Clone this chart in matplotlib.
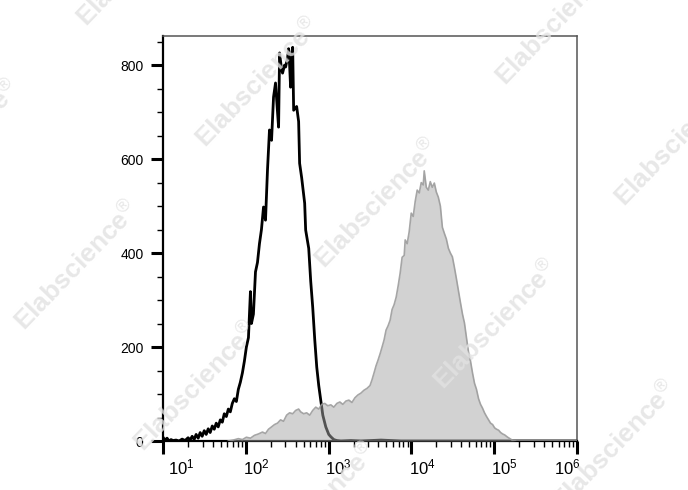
"""Flow cytometry overlay: isotype/unstained (black) vs stained sample (gray fill)."""
import numpy as np
import matplotlib; matplotlib.use("Agg")
import matplotlib.pyplot as plt
import matplotlib.transforms as mtransforms
from matplotlib.ticker import FixedLocator, NullFormatter, MultipleLocator

plt.rcParams["font.family"] = ["Liberation Sans", "DejaVu Sans"]
plt.rcParams["mathtext.fontset"] = "custom"
plt.rcParams["mathtext.rm"] = "Liberation Sans"
plt.rcParams["mathtext.it"] = "Liberation Sans:italic"
plt.rcParams["mathtext.bf"] = "Liberation Sans:bold"

# control histogram: log10 intensity vs count
ctrl_log = [1.000, 1.024, 1.049, 1.073, 1.097, 1.121, 1.158, 1.194, 1.231, 1.267,
            1.303, 1.328, 1.352, 1.376, 1.400, 1.425, 1.449, 1.473, 1.498, 1.522,
            1.546, 1.570, 1.595, 1.619, 1.643, 1.667, 1.692, 1.716, 1.740, 1.765,
            1.789, 1.813, 1.837, 1.862, 1.886, 1.910, 1.934, 1.959, 1.983, 2.007,
            2.032, 2.056, 2.068, 2.092, 2.117, 2.141, 2.165, 2.189, 2.214, 2.238,
            2.262, 2.286, 2.311, 2.335, 2.359, 2.383, 2.396, 2.408, 2.432, 2.444,
            2.468, 2.481, 2.505, 2.517, 2.529, 2.541, 2.553, 2.566, 2.578, 2.614,
            2.638, 2.650, 2.675, 2.711, 2.723, 2.760, 2.784, 2.808, 2.833, 2.857,
            2.881, 2.905, 2.930, 2.966, 3.002, 3.027, 3.063, 3.100, 3.148, 3.269,
            3.391, 3.633, 3.876, 4.483, 6.000]
ctrl_cnt = [8, 2, 6, 0, 3, 1, 2, 0, 4, 1,
            7, 2, 10, 3, 14, 6, 18, 10, 22, 14,
            26, 18, 32, 25, 38, 30, 45, 40, 58, 52,
            68, 62, 80, 90, 84, 110, 125, 145, 170, 200,
            220, 318, 250, 270, 360, 380, 420, 450, 498, 470,
            577, 662, 640, 732, 762, 700, 668, 826, 790, 783,
            800, 796, 817, 835, 800, 753, 820, 838, 704, 712,
            680, 591, 560, 506, 449, 410, 340, 285, 215, 157,
            118, 87, 55, 30, 14, 9, 3, 1, 0, 1,
            0, 2, 0, 0, 0]

# stained sample histogram
samp_log = [1.789, 1.850, 1.910, 1.959, 2.007, 2.056, 2.104, 2.153, 2.201, 2.238,
            2.274, 2.311, 2.347, 2.383, 2.420, 2.456, 2.493, 2.529, 2.566, 2.602,
            2.638, 2.663, 2.699, 2.735, 2.772, 2.808, 2.845, 2.881, 2.917, 2.954,
            2.990, 3.027, 3.063, 3.100, 3.136, 3.172, 3.209, 3.245, 3.282, 3.318,
            3.354, 3.391, 3.427, 3.464, 3.500, 3.524, 3.549, 3.573, 3.597, 3.621,
            3.646, 3.670, 3.694, 3.718, 3.743, 3.767, 3.791, 3.816, 3.840, 3.864,
            3.888, 3.913, 3.925, 3.949, 3.973, 3.998, 4.022, 4.046, 4.070, 4.095,
            4.119, 4.143, 4.155, 4.180, 4.204, 4.228, 4.252, 4.277, 4.301, 4.325,
            4.350, 4.374, 4.398, 4.422, 4.447, 4.471, 4.495, 4.519, 4.544, 4.568,
            4.592, 4.617, 4.641, 4.665, 4.689, 4.714, 4.738, 4.762, 4.786, 4.811,
            4.835, 4.859, 4.883, 4.908, 4.932, 4.956, 4.981, 5.005, 5.029, 5.053,
            5.078, 5.102, 5.126, 5.163, 5.199, 5.223, 5.272, 6.000]
samp_cnt = [0, 2, 5, 3, 8, 6, 12, 15, 19, 16,
            25, 30, 35, 38, 45, 42, 55, 60, 58, 65,
            68, 62, 58, 60, 55, 65, 72, 68, 78, 80,
            75, 77, 72, 80, 83, 78, 85, 87, 82, 92,
            98, 102, 108, 112, 118, 130, 145, 160, 172, 185,
            200, 215, 236, 245, 257, 280, 290, 306, 330, 357,
            391, 395, 428, 420, 445, 485, 478, 510, 534, 528,
            550, 545, 575, 540, 534, 552, 540, 549, 530, 519,
            500, 455, 442, 430, 410, 400, 392, 370, 345, 320,
            295, 270, 251, 220, 190, 170, 145, 123, 110, 90,
            78, 70, 60, 52, 45, 38, 35, 28, 25, 23,
            18, 15, 13, 8, 4, 1, 0, 0]

x_decades = [1, 2, 3, 4, 5, 6]
x_labels = [r"$10^{%d}$" % d for d in x_decades]
y_major = [0, 200, 400, 600, 800]

fig = plt.figure(figsize=(6.88, 4.90), dpi=100)
ax = fig.add_axes([163 / 688, 49 / 490, 414 / 688, 405 / 490])

cx = 10 ** np.array(ctrl_log)
sx = 10 ** np.array(samp_log)
ax.plot(cx, ctrl_cnt, color="black", lw=2.0, zorder=2)
ax.fill_between(sx, 0, samp_cnt, color="#a6a6a6", alpha=0.5, lw=0, zorder=3)
ax.plot(sx, samp_cnt, color="#9c9c9c", lw=1.2, alpha=0.9, zorder=3)

ax.set_xscale("log")
ax.set_xlim(10, 1.0e6)
ax.set_ylim(0, 862)

# x ticks: decades major, 2..9 minor
ax.xaxis.set_major_locator(FixedLocator([10.0 ** d for d in x_decades]))
ax.set_xticklabels(x_labels)
minors = [m * 10.0 ** d for d in x_decades[:-1] for m in range(2, 10)]
ax.xaxis.set_minor_locator(FixedLocator(minors))
ax.xaxis.set_minor_formatter(NullFormatter())

ax.yaxis.set_major_locator(FixedLocator(y_major))
ax.yaxis.set_minor_locator(MultipleLocator(50))

ax.tick_params(axis="both", which="major", direction="out", length=9, width=2.2,
               labelsize=10, color="black")
ax.tick_params(axis="both", which="minor", direction="out", length=4, width=1.0,
               color="black")
ax.tick_params(axis="x", which="major", pad=3, labelsize=12)
ax.tick_params(axis="y", which="major", pad=5)

# FlowJo-style label shift to the right of the decade ticks
shifts = [18, 11, 10, 11, 10, -10]
for lab, dx in zip(ax.get_xticklabels(), shifts):
    lab.set_transform(lab.get_transform() +
                      mtransforms.ScaledTranslation(dx / 100, 0, fig.dpi_scale_trans))

for s in ["left", "bottom"]:
    ax.spines[s].set_color("black")
    ax.spines[s].set_linewidth(1.6)
for s in ["top", "right"]:
    ax.spines[s].set_color("#555555")
    ax.spines[s].set_linewidth(1.1)

# watermark lattice
W, H = 688, 490
c0 = np.array([258.0, 83.0])
va = np.array([119.0, 121.0])
vb = np.array([300.0, -62.0])
for i in range(-4, 6):
    for j in range(-3, 4):
        px, py = c0 + i * va + j * vb
        if -150 < px < W + 150 and -150 < py < H + 150:
            fig.text(px / W, 1 - py / H, r"Elabscience$^{\circledR}$", fontsize=19,
                     fontweight="bold", color="#e2e2e2", alpha=0.8, rotation=46,
                     rotation_mode="anchor", ha="center", va="center", zorder=10)

fig.savefig("out.png", dpi=100)
